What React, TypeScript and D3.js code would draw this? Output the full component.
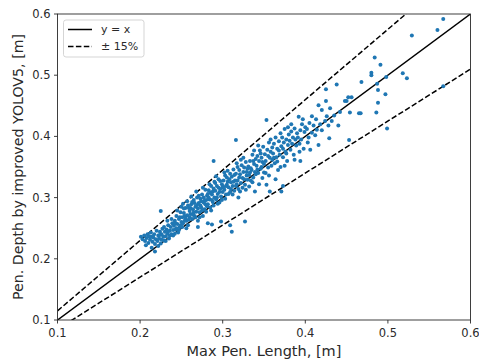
import React from "react";
import * as d3 from "d3";

// Measured (max penetration length) vs predicted (penetration depth) pairs, metres
const points: [number, number][] = [
  [0.201, 0.236], [0.203, 0.232], [0.205, 0.238], [0.206, 0.229], [0.208, 0.234], [0.209, 0.240], [0.210, 0.226], [0.207, 0.222],
  [0.211, 0.237], [0.212, 0.231], [0.213, 0.243], [0.214, 0.218], [0.215, 0.228], [0.216, 0.235], [0.217, 0.240], [0.218, 0.224],
  [0.219, 0.232], [0.220, 0.246], [0.214, 0.236], [0.218, 0.212],
  [0.221, 0.229], [0.222, 0.238], [0.223, 0.233], [0.224, 0.244], [0.225, 0.278], [0.225, 0.225], [0.226, 0.240], [0.227, 0.249],
  [0.228, 0.236], [0.229, 0.230], [0.230, 0.244], [0.222, 0.221], [0.226, 0.231], [0.229, 0.252], [0.224, 0.239],
  [0.231, 0.237], [0.232, 0.248], [0.233, 0.241], [0.234, 0.255], [0.235, 0.233], [0.236, 0.246], [0.237, 0.252], [0.238, 0.240],
  [0.239, 0.258], [0.240, 0.247], [0.233, 0.262], [0.236, 0.238], [0.231, 0.229], [0.238, 0.265], [0.240, 0.238], [0.234, 0.245],
  [0.241, 0.254], [0.242, 0.262], [0.243, 0.248], [0.244, 0.270], [0.245, 0.257], [0.246, 0.243], [0.247, 0.265], [0.248, 0.252],
  [0.249, 0.276], [0.250, 0.260], [0.242, 0.241], [0.245, 0.279], [0.248, 0.268], [0.243, 0.258], [0.247, 0.247], [0.250, 0.285],
  [0.249, 0.255], [0.244, 0.250],
  [0.251, 0.268], [0.252, 0.258], [0.253, 0.275], [0.254, 0.262], [0.255, 0.283], [0.256, 0.250], [0.257, 0.271], [0.258, 0.287],
  [0.259, 0.264], [0.260, 0.278], [0.252, 0.290], [0.254, 0.270], [0.256, 0.262], [0.258, 0.255], [0.260, 0.268], [0.253, 0.282],
  [0.257, 0.294], [0.259, 0.283], [0.255, 0.266], [0.251, 0.252],
  [0.261, 0.273], [0.262, 0.289], [0.263, 0.265], [0.264, 0.281], [0.265, 0.296], [0.266, 0.270], [0.267, 0.285], [0.268, 0.277],
  [0.269, 0.300], [0.270, 0.262], [0.261, 0.283], [0.263, 0.293], [0.265, 0.276], [0.267, 0.268], [0.269, 0.288], [0.262, 0.302],
  [0.266, 0.291], [0.268, 0.310], [0.264, 0.272], [0.270, 0.282], [0.270, 0.252],
  [0.271, 0.291], [0.272, 0.276], [0.273, 0.298], [0.274, 0.284], [0.275, 0.305], [0.276, 0.270], [0.277, 0.292], [0.278, 0.281],
  [0.279, 0.313], [0.280, 0.296], [0.271, 0.303], [0.273, 0.287], [0.275, 0.279], [0.277, 0.300], [0.279, 0.289], [0.272, 0.268],
  [0.276, 0.316], [0.278, 0.295], [0.274, 0.294], [0.280, 0.277], [0.282, 0.258], [0.287, 0.256],
  [0.281, 0.303], [0.282, 0.289], [0.283, 0.312], [0.284, 0.297], [0.285, 0.284], [0.286, 0.319], [0.287, 0.305], [0.288, 0.293],
  [0.289, 0.360], [0.289, 0.315], [0.290, 0.300], [0.281, 0.286], [0.283, 0.300], [0.285, 0.308], [0.287, 0.296], [0.289, 0.287],
  [0.284, 0.322], [0.288, 0.310], [0.290, 0.326], [0.286, 0.279], [0.282, 0.306],
  [0.291, 0.311], [0.292, 0.297], [0.293, 0.319], [0.294, 0.306], [0.295, 0.330], [0.296, 0.292], [0.297, 0.314], [0.298, 0.261],
  [0.298, 0.302], [0.299, 0.322], [0.300, 0.309], [0.291, 0.324], [0.293, 0.300], [0.295, 0.316], [0.297, 0.327], [0.299, 0.296],
  [0.292, 0.335], [0.296, 0.309], [0.300, 0.318], [0.294, 0.290],
  [0.301, 0.328], [0.302, 0.313], [0.303, 0.336], [0.304, 0.305], [0.305, 0.321], [0.306, 0.344], [0.307, 0.317], [0.308, 0.330],
  [0.309, 0.255], [0.309, 0.309], [0.310, 0.325], [0.301, 0.316], [0.303, 0.298], [0.305, 0.333], [0.307, 0.306], [0.309, 0.339],
  [0.311, 0.244], [0.302, 0.341], [0.306, 0.326], [0.310, 0.314], [0.304, 0.319],
  [0.311, 0.334], [0.312, 0.319], [0.313, 0.346], [0.314, 0.311], [0.315, 0.328], [0.316, 0.394], [0.316, 0.339], [0.317, 0.322],
  [0.318, 0.350], [0.319, 0.314], [0.320, 0.333], [0.312, 0.305], [0.314, 0.337], [0.316, 0.319], [0.318, 0.328], [0.320, 0.345],
  [0.313, 0.326], [0.317, 0.356], [0.319, 0.300],
  [0.321, 0.338], [0.322, 0.324], [0.323, 0.353], [0.324, 0.316], [0.325, 0.342], [0.326, 0.330], [0.327, 0.261], [0.327, 0.321],
  [0.328, 0.358], [0.329, 0.336], [0.330, 0.347], [0.322, 0.362], [0.324, 0.332], [0.326, 0.349], [0.328, 0.313], [0.330, 0.329],
  [0.321, 0.310], [0.325, 0.365], [0.329, 0.342],
  [0.331, 0.351], [0.332, 0.337], [0.333, 0.360], [0.334, 0.328], [0.335, 0.345], [0.336, 0.370], [0.337, 0.333], [0.338, 0.355],
  [0.339, 0.342], [0.340, 0.363], [0.332, 0.318], [0.334, 0.348], [0.336, 0.325], [0.338, 0.377], [0.340, 0.338], [0.333, 0.341],
  [0.337, 0.360], [0.339, 0.310],
  [0.341, 0.352], [0.342, 0.368], [0.343, 0.340], [0.344, 0.360], [0.345, 0.377], [0.346, 0.347], [0.347, 0.365], [0.348, 0.332],
  [0.349, 0.383], [0.350, 0.355], [0.342, 0.346], [0.344, 0.322], [0.346, 0.372], [0.348, 0.358], [0.350, 0.341], [0.343, 0.385],
  [0.347, 0.350],
  [0.351, 0.371], [0.352, 0.360], [0.353, 0.427], [0.353, 0.321], [0.354, 0.378], [0.355, 0.349], [0.356, 0.390], [0.357, 0.310],
  [0.357, 0.365], [0.358, 0.375], [0.359, 0.352], [0.360, 0.382], [0.352, 0.340], [0.355, 0.368], [0.358, 0.395], [0.360, 0.362],
  [0.356, 0.336],
  [0.361, 0.372], [0.362, 0.388], [0.363, 0.356], [0.364, 0.398], [0.365, 0.366], [0.366, 0.380], [0.367, 0.345], [0.368, 0.392],
  [0.369, 0.370], [0.370, 0.405], [0.362, 0.365], [0.364, 0.330], [0.366, 0.359], [0.368, 0.377], [0.370, 0.350], [0.371, 0.310],
  [0.371, 0.384], [0.372, 0.398], [0.373, 0.366], [0.374, 0.390], [0.375, 0.412], [0.376, 0.375], [0.377, 0.395], [0.378, 0.360],
  [0.379, 0.386], [0.380, 0.403], [0.373, 0.380], [0.377, 0.372], [0.379, 0.415], [0.375, 0.352], [0.373, 0.319],
  [0.381, 0.393], [0.382, 0.378], [0.383, 0.408], [0.384, 0.388], [0.385, 0.398], [0.386, 0.370], [0.387, 0.413], [0.388, 0.395],
  [0.389, 0.385], [0.390, 0.405], [0.383, 0.420], [0.387, 0.362],
  [0.391, 0.398], [0.392, 0.432], [0.393, 0.388], [0.394, 0.360], [0.394, 0.410], [0.395, 0.395], [0.396, 0.420], [0.397, 0.428],
  [0.398, 0.380], [0.399, 0.407], [0.400, 0.415], [0.393, 0.375],
  [0.402, 0.412], [0.404, 0.398], [0.405, 0.422], [0.406, 0.378], [0.408, 0.433], [0.408, 0.406], [0.410, 0.418], [0.412, 0.402],
  [0.413, 0.428], [0.414, 0.411], [0.416, 0.386], [0.416, 0.451], [0.418, 0.420], [0.420, 0.443], [0.420, 0.410], [0.403, 0.390],
  [0.424, 0.425], [0.425, 0.477], [0.425, 0.458], [0.426, 0.433], [0.428, 0.418], [0.429, 0.397], [0.430, 0.446], [0.432, 0.425],
  [0.435, 0.434], [0.438, 0.485], [0.440, 0.418], [0.442, 0.440], [0.448, 0.458], [0.450, 0.458], [0.452, 0.464], [0.453, 0.394],
  [0.454, 0.439], [0.456, 0.464],
  [0.465, 0.438], [0.467, 0.438], [0.468, 0.489], [0.480, 0.504], [0.480, 0.500], [0.484, 0.529], [0.486, 0.439], [0.487, 0.486],
  [0.488, 0.476], [0.488, 0.455], [0.491, 0.517], [0.497, 0.469], [0.498, 0.497], [0.499, 0.413], [0.518, 0.503], [0.523, 0.495],
  [0.529, 0.565], [0.560, 0.574], [0.567, 0.592], [0.567, 0.482],
];

const xTicks = [0.1, 0.2, 0.3, 0.4, 0.5, 0.6];
const yTicks = [0.1, 0.2, 0.3, 0.4, 0.5, 0.6];
const domain: [number, number] = [0.1, 0.6];
// Reference lines: slope and legend label
const refLines = [
  { k: 1.0, label: "y = x", dash: "" },
  { k: 1.15, label: "± 15%", dash: "5.5,2.4" },
  { k: 0.85, label: "± 15%", dash: "5.5,2.4" },
];

const W = 479;
const H = 359;
const M = { left: 57.5, right: 8.5, top: 14, bottom: 39 };

export default function App() {
  const x = d3.scaleLinear().domain(domain).range([M.left, W - M.right]);
  const y = d3.scaleLinear().domain(domain).range([H - M.bottom, M.top]);
  const fmt = d3.format(".1f");
  const line = d3
    .line<[number, number]>()
    .x((d) => x(d[0]))
    .y((d) => y(d[1]));
  const font = "DejaVu Sans, sans-serif";
  const axisColor = "#2a2a2a";

  return (
    <svg
      width={W}
      height={H}
      style={{ position: "absolute", left: 0, top: 0, background: "#fff" }}
      fontFamily={font}
    >
      <defs>
        <clipPath id="plot">
          <rect x={M.left} y={M.top} width={W - M.left - M.right} height={H - M.top - M.bottom} />
        </clipPath>
      </defs>

      <g clipPath="url(#plot)">
        {refLines.map((r, i) => (
          <path
            key={i}
            d={line([
              [domain[0], domain[0] * r.k],
              [domain[1], domain[1] * r.k],
            ]) as string}
            fill="none"
            stroke="#000"
            strokeWidth={1.5}
            strokeDasharray={r.dash || undefined}
          />
        ))}
        {points.map((p, i) => (
          <circle key={i} cx={x(p[0])} cy={y(p[1])} r={2} fill="#1f77b4" />
        ))}
      </g>

      {/* frame */}
      <rect
        x={M.left}
        y={M.top}
        width={W - M.left - M.right}
        height={H - M.top - M.bottom}
        fill="none"
        stroke={axisColor}
        strokeWidth={0.9}
      />

      {/* x axis */}
      {xTicks.map((t) => (
        <g key={"x" + t}>
          <line x1={x(t)} x2={x(t)} y1={H - M.bottom} y2={H - M.bottom + 3.5} stroke={axisColor} strokeWidth={0.9} />
          <text x={x(t)} y={H - M.bottom + 16.5} textAnchor="middle" fontSize={11.5} fill="#2a2a2a">
            {fmt(t)}
          </text>
        </g>
      ))}
      {/* y axis */}
      {yTicks.map((t) => (
        <g key={"y" + t}>
          <line x1={M.left - 3.5} x2={M.left} y1={y(t)} y2={y(t)} stroke={axisColor} strokeWidth={0.9} />
          <text x={M.left - 7} y={y(t)} dy="0.35em" textAnchor="end" fontSize={11.5} fill="#2a2a2a">
            {fmt(t)}
          </text>
        </g>
      ))}

      <text x={(M.left + W - M.right) / 2} y={H - 3} textAnchor="middle" fontSize={14.5} fill="#2a2a2a">
        Max Pen. Length, [m]
      </text>
      <text
        transform={`translate(${23},${(M.top + H - M.bottom) / 2}) rotate(-90)`}
        textAnchor="middle"
        fontSize={14.2}
        fill="#2a2a2a"
      >
        Pen. Depth by improved YOLOV5, [m]
      </text>

      {/* legend */}
      <g>
        <rect x={63.5} y={20} width={80.5} height={37} rx={2.5} fill="#fff" fillOpacity={0.8} stroke="#d0d0d0" strokeWidth={0.9} />
        <line x1={68} x2={92} y1={29.5} y2={29.5} stroke="#000" strokeWidth={1.5} />
        <text x={101} y={29.5} dy="0.35em" fontSize={11} fill="#2a2a2a">
          {refLines[0].label}
        </text>
        <line x1={68} x2={92} y1={46.5} y2={46.5} stroke="#000" strokeWidth={1.5} strokeDasharray="5.5,2.4" />
        <text x={101} y={46.5} dy="0.35em" fontSize={11} fill="#2a2a2a">
          {refLines[1].label}
        </text>
      </g>
    </svg>
  );
}
